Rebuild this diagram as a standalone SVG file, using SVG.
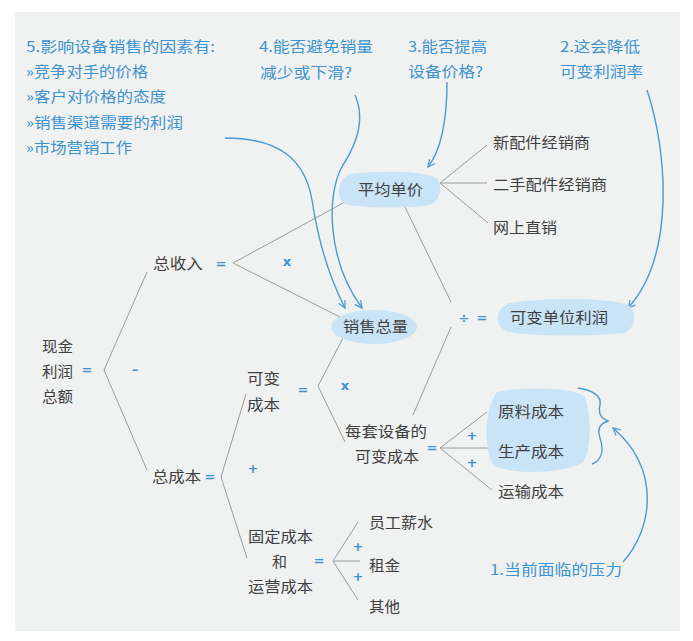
<svg xmlns="http://www.w3.org/2000/svg" width="693" height="641" viewBox="0 0 693 641">
<defs>
<style>
.t{font-family:"Noto Sans CJK SC","Liberation Sans",sans-serif;font-size:15px;fill:#3f3f3f;}
.b{font-family:"Noto Sans CJK SC","Liberation Sans",sans-serif;font-size:14.5px;fill:#3d93cf;}
.op{font-family:"DejaVu Sans","Liberation Sans",sans-serif;font-size:13px;font-weight:bold;fill:#3d93cf;text-anchor:middle;}
.ln{stroke:#9c9c9c;stroke-width:1;fill:none;}
.ar{stroke:#4a9ad4;stroke-width:1.4;fill:none;}
.blob{fill:#c9e4f6;}
</style>
<marker id="ah" viewBox="0 0 10 10" refX="9" refY="5" markerWidth="9" markerHeight="9" markerUnits="userSpaceOnUse" orient="auto">
<path d="M1,1 L9,5 L1,9" fill="none" stroke="#4a9ad4" stroke-width="1.4"/>
</marker>
</defs>
<rect x="0" y="0" width="693" height="641" fill="#ffffff"/>
<rect x="15" y="12" width="665" height="619" fill="#f0f1f1"/>

<g id="connectors">
<polyline class="ln" points="147,272 104,370 147,470"/>
<polyline class="ln" points="345,202 233,263 340,317"/>
<polyline class="ln" points="246,394 221,477 247,558"/>
<polyline class="ln" points="343,338 318,386 345,442"/>
<line class="ln" x1="405" y1="207" x2="451" y2="302"/>
<line class="ln" x1="451" y1="327" x2="413" y2="415"/>
<polyline class="ln" points="487,145 440,183 488,223"/>
<line class="ln" x1="440" y1="183" x2="487" y2="183"/>
<polyline class="ln" points="487,412 440,448 492,490"/>
<line class="ln" x1="440" y1="448" x2="488" y2="448"/>
<polyline class="ln" points="358,522 333,561 358,600"/>
<line class="ln" x1="333" y1="561" x2="360" y2="561"/>
<path class="ar" marker-end="url(#ah)" d="M225,138 C 280,138 305,160 312,200 C 318,240 328,275 345,308"/>
<path class="ar" marker-end="url(#ah)" d="M355,95 C 366,120 356,145 343,165 C 325,195 328,262 362,308"/>
<path class="ar" marker-end="url(#ah)" d="M447,82 C 447,120 441,150 428,167"/>
<path class="ar" marker-end="url(#ah)" d="M647,90 C 667,150 676,255 628,308"/>
<path class="ar" marker-end="url(#ah)" d="M623,562 C 652,530 662,470 613,428"/>
<path class="ar" d="M578,388 C 592,390 602,396 600,405 C 598,413 600,418 608,421 C 600,424 597,428 600,438 C 604,450 602,460 592,464"/>
</g>

<g id="note5">
<text class="b" x="26" y="52" textLength="189" lengthAdjust="spacingAndGlyphs">5.影响设备销售的因素有:</text>
<text class="b" x="26" y="77" textLength="122" lengthAdjust="spacingAndGlyphs">»竞争对手的价格</text>
<text class="b" x="26" y="102" textLength="140" lengthAdjust="spacingAndGlyphs">»客户对价格的态度</text>
<text class="b" x="26" y="128" textLength="157" lengthAdjust="spacingAndGlyphs">»销售渠道需要的利润</text>
<text class="b" x="26" y="153" textLength="106" lengthAdjust="spacingAndGlyphs">»市场营销工作</text>
</g>
<g id="note4">
<text class="b" x="259" y="52" textLength="114" lengthAdjust="spacingAndGlyphs">4.能否避免销量</text>
<text class="b" x="260" y="78" textLength="92" lengthAdjust="spacingAndGlyphs">减少或下滑?</text>
</g>
<g id="note3">
<text class="b" x="408" y="52" textLength="79" lengthAdjust="spacingAndGlyphs">3.能否提高</text>
<text class="b" x="408" y="77" textLength="75" lengthAdjust="spacingAndGlyphs">设备价格?</text>
</g>
<g id="note2">
<text class="b" x="560" y="52" textLength="80" lengthAdjust="spacingAndGlyphs">2.这会降低</text>
<text class="b" x="560" y="77" textLength="83" lengthAdjust="spacingAndGlyphs">可变利润率</text>
</g>
<g id="note1">
<text class="b" x="490" y="575" textLength="132" lengthAdjust="spacingAndGlyphs">1.当前面临的压力</text>
</g>

<g id="n-price">
<path class="blob" d="M350,174 C 380,170 425,171 437,178 C 443,186 441,200 430,205 C 400,209 360,208 345,204 C 336,198 336,180 350,174 Z"/>
<text class="t" x="358" y="195" textLength="65" lengthAdjust="spacingAndGlyphs">平均单价</text>
</g>
<g id="n-new">
<text class="t" x="493" y="148" textLength="97" lengthAdjust="spacingAndGlyphs">新配件经销商</text>
</g>
<g id="n-used">
<text class="t" x="493" y="190" textLength="114" lengthAdjust="spacingAndGlyphs">二手配件经销商</text>
</g>
<g id="n-online">
<text class="t" x="493" y="233" textLength="64" lengthAdjust="spacingAndGlyphs">网上直销</text>
</g>
<g id="n-revenue">
<text class="t" x="153" y="269" textLength="50" lengthAdjust="spacingAndGlyphs">总收入</text>
<text class="op" x="221" y="268">=</text>
<text class="op" x="287" y="266">x</text>
</g>
<g id="n-volume">
<ellipse class="blob" cx="374" cy="327" rx="43" ry="17"/>
<text class="t" x="343" y="332" textLength="65" lengthAdjust="spacingAndGlyphs">销售总量</text>
</g>
<g id="n-unitprofit">
<text class="op" x="464" y="323" font-size="15">÷</text>
<text class="op" x="482" y="322">=</text>
<path class="blob" d="M510,303 C 550,297 610,298 628,305 C 638,312 636,328 624,333 C 580,337 530,336 508,332 C 494,326 494,308 510,303 Z"/>
<text class="t" x="510" y="323" textLength="98" lengthAdjust="spacingAndGlyphs">可变单位利润</text>
</g>
<g id="n-cash">
<text class="t" x="42" y="352" textLength="31" lengthAdjust="spacingAndGlyphs">现金</text>
<text class="t" x="42" y="377" textLength="31" lengthAdjust="spacingAndGlyphs">利润</text>
<text class="t" x="42" y="402" textLength="31" lengthAdjust="spacingAndGlyphs">总额</text>
<text class="op" x="87" y="374">=</text>
<text class="op" x="135" y="374">–</text>
</g>
<g id="n-varcost">
<text class="t" x="247" y="384" textLength="33" lengthAdjust="spacingAndGlyphs">可变</text>
<text class="t" x="247" y="410" textLength="33" lengthAdjust="spacingAndGlyphs">成本</text>
<text class="op" x="303" y="394">=</text>
<text class="op" x="345" y="390">x</text>
</g>
<g id="n-unitvar">
<text class="t" x="345" y="437" textLength="82" lengthAdjust="spacingAndGlyphs">每套设备的</text>
<text class="t" x="355" y="462" textLength="64" lengthAdjust="spacingAndGlyphs">可变成本</text>
<text class="op" x="432" y="452">=</text>
<text class="op" x="472" y="440">+</text>
<text class="op" x="472" y="467">+</text>
</g>
<g id="n-matprod">
<path class="blob" d="M497,392 C 530,386 574,388 585,397 C 592,420 591,450 583,462 C 562,475 512,474 494,466 C 483,450 484,410 497,392 Z"/>
<text class="t" x="498" y="417" textLength="66" lengthAdjust="spacingAndGlyphs">原料成本</text>
<text class="t" x="498" y="457" textLength="66" lengthAdjust="spacingAndGlyphs">生产成本</text>
</g>
<g id="n-transport">
<text class="t" x="498" y="497" textLength="66" lengthAdjust="spacingAndGlyphs">运输成本</text>
</g>
<g id="n-totalcost">
<text class="t" x="152" y="482" textLength="49" lengthAdjust="spacingAndGlyphs">总成本</text>
<text class="op" x="210" y="481">=</text>
<text class="op" x="253" y="473">+</text>
</g>
<g id="n-fixed">
<text class="t" x="248" y="542" textLength="65" lengthAdjust="spacingAndGlyphs">固定成本</text>
<text class="t" x="272" y="567">和</text>
<text class="t" x="248" y="592" textLength="65" lengthAdjust="spacingAndGlyphs">运营成本</text>
<text class="op" x="319" y="565">=</text>
<text class="op" x="358" y="551">+</text>
<text class="op" x="358" y="581">+</text>
</g>
<g id="n-salary">
<text class="t" x="369" y="528" textLength="64" lengthAdjust="spacingAndGlyphs">员工薪水</text>
</g>
<g id="n-rent">
<text class="t" x="369" y="571" textLength="31" lengthAdjust="spacingAndGlyphs">租金</text>
</g>
<g id="n-other">
<text class="t" x="369" y="612" textLength="31" lengthAdjust="spacingAndGlyphs">其他</text>
</g>
</svg>
